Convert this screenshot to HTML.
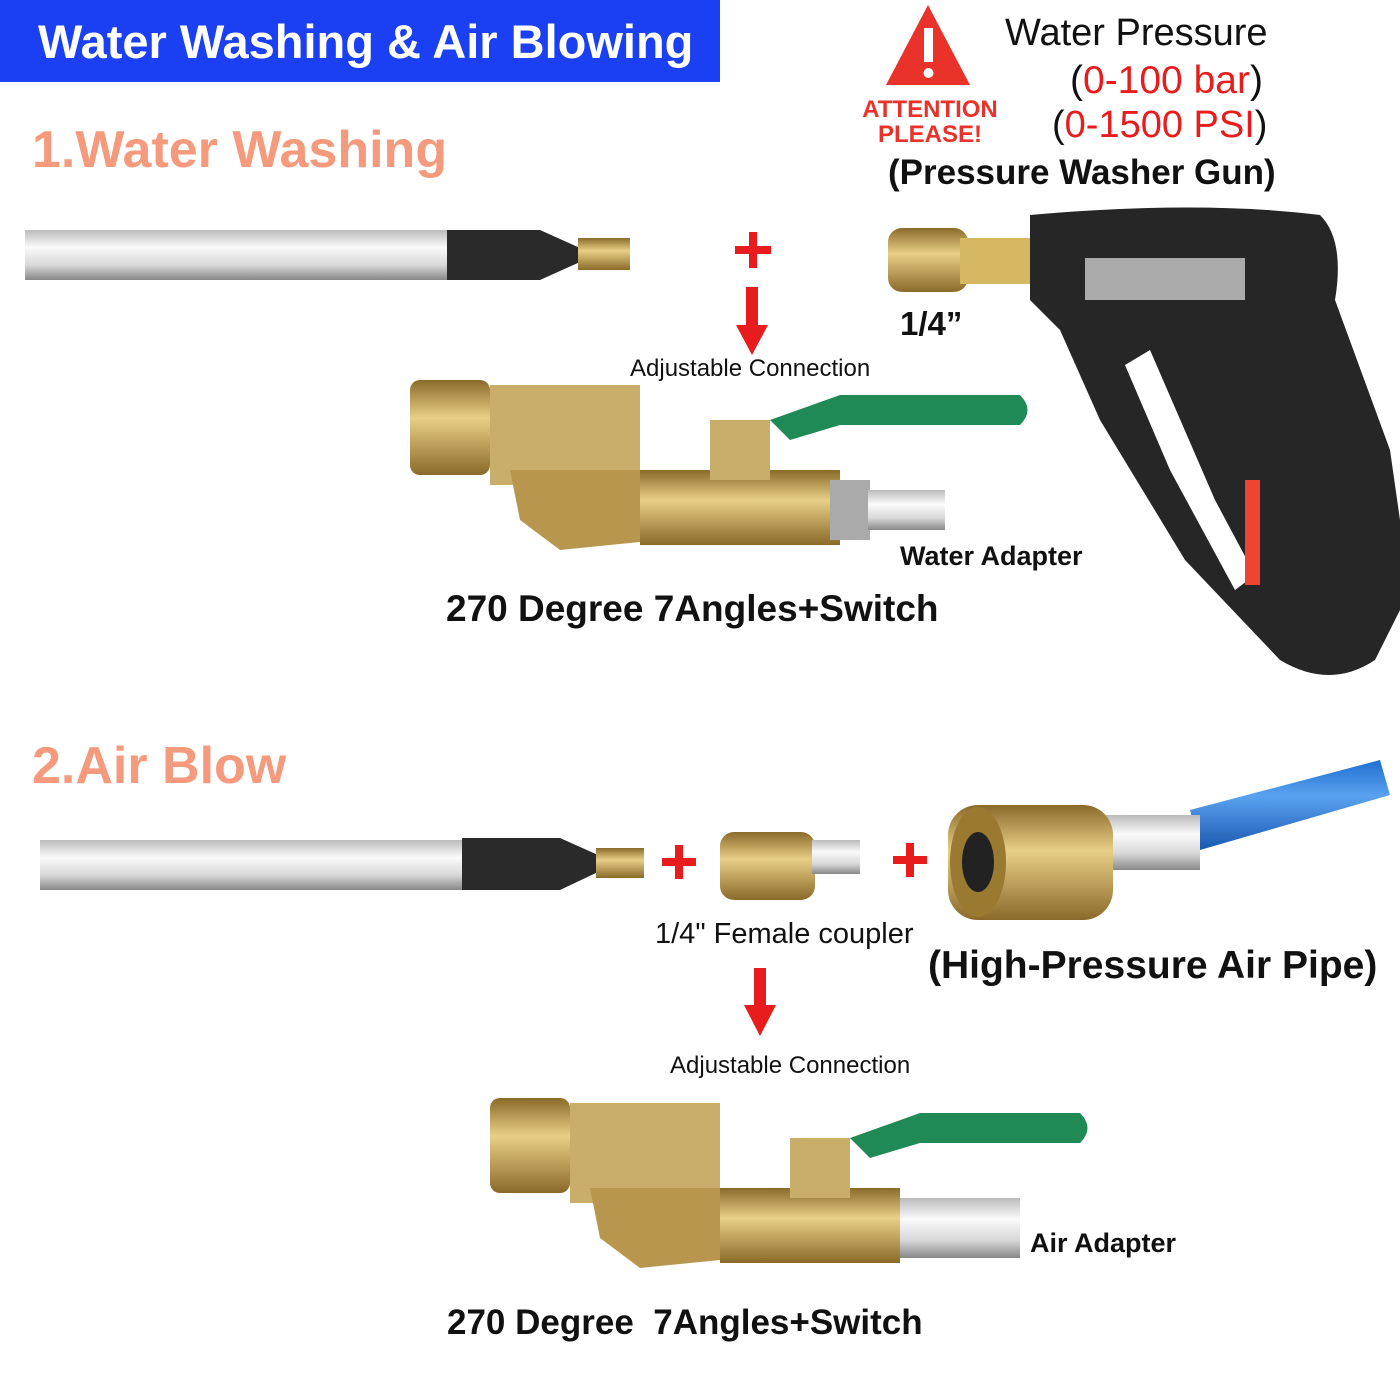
<!DOCTYPE html>
<html><head><meta charset="utf-8"><style>
html,body{margin:0;padding:0;background:#fff;}
body{width:1400px;height:1400px;position:relative;overflow:hidden;font-family:"Liberation Sans",sans-serif;}
.t{position:absolute;white-space:nowrap;line-height:1;}
.b{font-weight:bold;}
</style></head><body>
<div style="position:absolute;left:0;top:0;width:720px;height:82px;background:#1b3ff2;"></div>
<div class="t b" style="left:38px;top:18px;font-size:47px;color:#fff;">Water Washing &amp; Air Blowing</div>
<div class="t b" style="left:32px;top:124px;font-size:52px;color:#f59a7c;">1.Water Washing</div>
<div class="t b" style="left:32px;top:740px;font-size:52px;color:#f59a7c;">2.Air Blow</div>

<svg width="1400" height="1400" style="position:absolute;left:0;top:0">
<defs>
<linearGradient id="sil" x1="0" y1="0" x2="0" y2="1"><stop offset="0" stop-color="#bbb"/><stop offset=".35" stop-color="#fafafa"/><stop offset=".7" stop-color="#d8d8d8"/><stop offset="1" stop-color="#888"/></linearGradient>
<linearGradient id="br" x1="0" y1="0" x2="0" y2="1"><stop offset="0" stop-color="#8a6a2a"/><stop offset=".4" stop-color="#e8cf86"/><stop offset="1" stop-color="#8a6a2a"/></linearGradient>
<linearGradient id="hose" x1="0" y1="0" x2="0" y2="1"><stop offset="0" stop-color="#1f6fd0"/><stop offset=".4" stop-color="#5aa2f0"/><stop offset="1" stop-color="#1a58b0"/></linearGradient>
</defs>
<polygon points="928,5 970,85 886,85" fill="#e8322a"/>
<rect x="924" y="28" width="9" height="34" fill="#fff"/><circle cx="928.5" cy="73" r="5" fill="#fff"/>
<rect x="25" y="230" width="425" height="50" fill="url(#sil)"/>
<path d="M447,230 L540,230 L580,248 L580,262 L540,280 L447,280Z" fill="#2a2a2a"/>
<rect x="578" y="238" width="52" height="32" fill="url(#br)"/>
<rect x="735" y="246" width="36" height="8" fill="#e81c1c"/><rect x="749" y="232" width="8" height="36" fill="#e81c1c"/>
<rect x="746" y="287" width="12" height="40" fill="#e81c1c"/><polygon points="736,325 768,325 752,355" fill="#e81c1c"/>
<g>
<rect x="410" y="380" width="80" height="95" rx="10" fill="url(#br)"/>
<rect x="490" y="385" width="150" height="100" fill="#c9ad6a"/>
<path d="M510,470 L640,470 L660,540 L560,550 L520,520Z" fill="#b8964e"/>
<rect x="640" y="470" width="200" height="75" fill="url(#br)"/>
<rect x="710" y="420" width="60" height="60" fill="#c9ad6a"/>
<rect x="830" y="480" width="40" height="60" fill="#aaa"/>
<rect x="868" y="490" width="77" height="40" fill="url(#sil)"/>
<path d="M770,420 L840,395 L1020,395 Q1035,410 1020,425 L840,425 L790,440Z" fill="#1f8a55"/>
</g>
<rect x="888" y="228" width="80" height="64" rx="14" fill="url(#br)"/>
<rect x="960" y="238" width="70" height="46" fill="#d7b862"/>
<path d="M1030,215 Q1200,200 1320,215 Q1345,240 1335,300 L1390,450 L1400,520 L1400,610 L1375,660 Q1330,690 1280,660 L1185,560 L1100,420 L1060,330 L1030,300 Z" fill="#262626"/>
<path d="M1150,350 L1215,500 L1255,575 L1235,590 L1170,470 L1125,365Z" fill="#fff"/>
<rect x="1085" y="258" width="160" height="42" fill="#aaa"/>
<rect x="1245" y="480" width="15" height="105" fill="#ee4433"/>
<rect x="40" y="840" width="425" height="50" fill="url(#sil)"/>
<path d="M462,838 L560,838 L598,855 L598,872 L560,890 L462,890Z" fill="#2a2a2a"/>
<rect x="596" y="848" width="48" height="30" fill="url(#br)"/>
<rect x="662" y="858" width="34" height="8" fill="#e81c1c"/><rect x="675" y="845" width="8" height="34" fill="#e81c1c"/>
<rect x="720" y="832" width="95" height="68" rx="14" fill="url(#br)"/>
<rect x="812" y="840" width="48" height="34" fill="url(#sil)"/>
<rect x="893" y="856" width="34" height="8" fill="#e81c1c"/><rect x="906" y="843" width="8" height="34" fill="#e81c1c"/>
<polygon points="1190,810 1380,760 1390,795 1200,850" fill="url(#hose)"/>
<rect x="1100" y="815" width="100" height="55" fill="url(#sil)"/>
<rect x="948" y="805" width="165" height="115" rx="30" fill="url(#br)"/>
<ellipse cx="978" cy="862" rx="28" ry="55" fill="#9a7a30"/><ellipse cx="978" cy="862" rx="16" ry="30" fill="#222"/>
<rect x="754" y="968" width="12" height="40" fill="#e81c1c"/><polygon points="744,1005 776,1005 760,1036" fill="#e81c1c"/>
<g transform="translate(80,718)">
<rect x="410" y="380" width="80" height="95" rx="10" fill="url(#br)"/>
<rect x="490" y="385" width="150" height="100" fill="#c9ad6a"/>
<path d="M510,470 L640,470 L660,540 L560,550 L520,520Z" fill="#b8964e"/>
<rect x="640" y="470" width="180" height="75" fill="url(#br)"/>
<rect x="710" y="420" width="60" height="60" fill="#c9ad6a"/>
<rect x="820" y="480" width="120" height="60" fill="url(#sil)"/>
<path d="M770,420 L840,395 L1000,395 Q1015,410 1000,425 L840,425 L790,440Z" fill="#1f8a55"/>
</g>
</svg>

<div class="t b" style="left:850px;top:97px;font-size:24px;color:#e8322a;text-align:center;width:160px;line-height:25px;">ATTENTION<br>PLEASE!</div>
<div class="t" style="left:1005px;top:14px;font-size:38px;color:#111;">Water Pressure</div>
<div class="t" style="left:1070px;top:61px;font-size:39px;color:#111;">(<span style="color:#e81c1c">0-100 bar</span>)</div>
<div class="t" style="left:1052px;top:106px;font-size:38px;color:#111;">(<span style="color:#e81c1c">0-1500 PSI</span>)</div>
<div class="t b" style="left:888px;top:155px;font-size:35px;color:#111;">(Pressure Washer Gun)</div>
<div class="t b" style="left:900px;top:307px;font-size:33px;color:#111;">1/4”</div>
<div class="t" style="left:630px;top:357px;font-size:24px;color:#111;">Adjustable Connection</div>
<div class="t b" style="left:900px;top:543px;font-size:27px;color:#111;">Water Adapter</div>
<div class="t b" style="left:446px;top:590px;font-size:37px;color:#111;">270 Degree 7Angles+Switch</div>
<div class="t" style="left:655px;top:920px;font-size:29px;color:#111;">1/4" Female coupler</div>
<div class="t b" style="left:928px;top:946px;font-size:39px;color:#111;">(High-Pressure Air Pipe)</div>
<div class="t" style="left:670px;top:1054px;font-size:24px;color:#111;">Adjustable Connection</div>
<div class="t b" style="left:1030px;top:1230px;font-size:27px;color:#111;">Air Adapter</div>
<div class="t b" style="left:447px;top:1305px;font-size:35px;color:#111;">270 Degree &nbsp;7Angles+Switch</div>
</body></html>
